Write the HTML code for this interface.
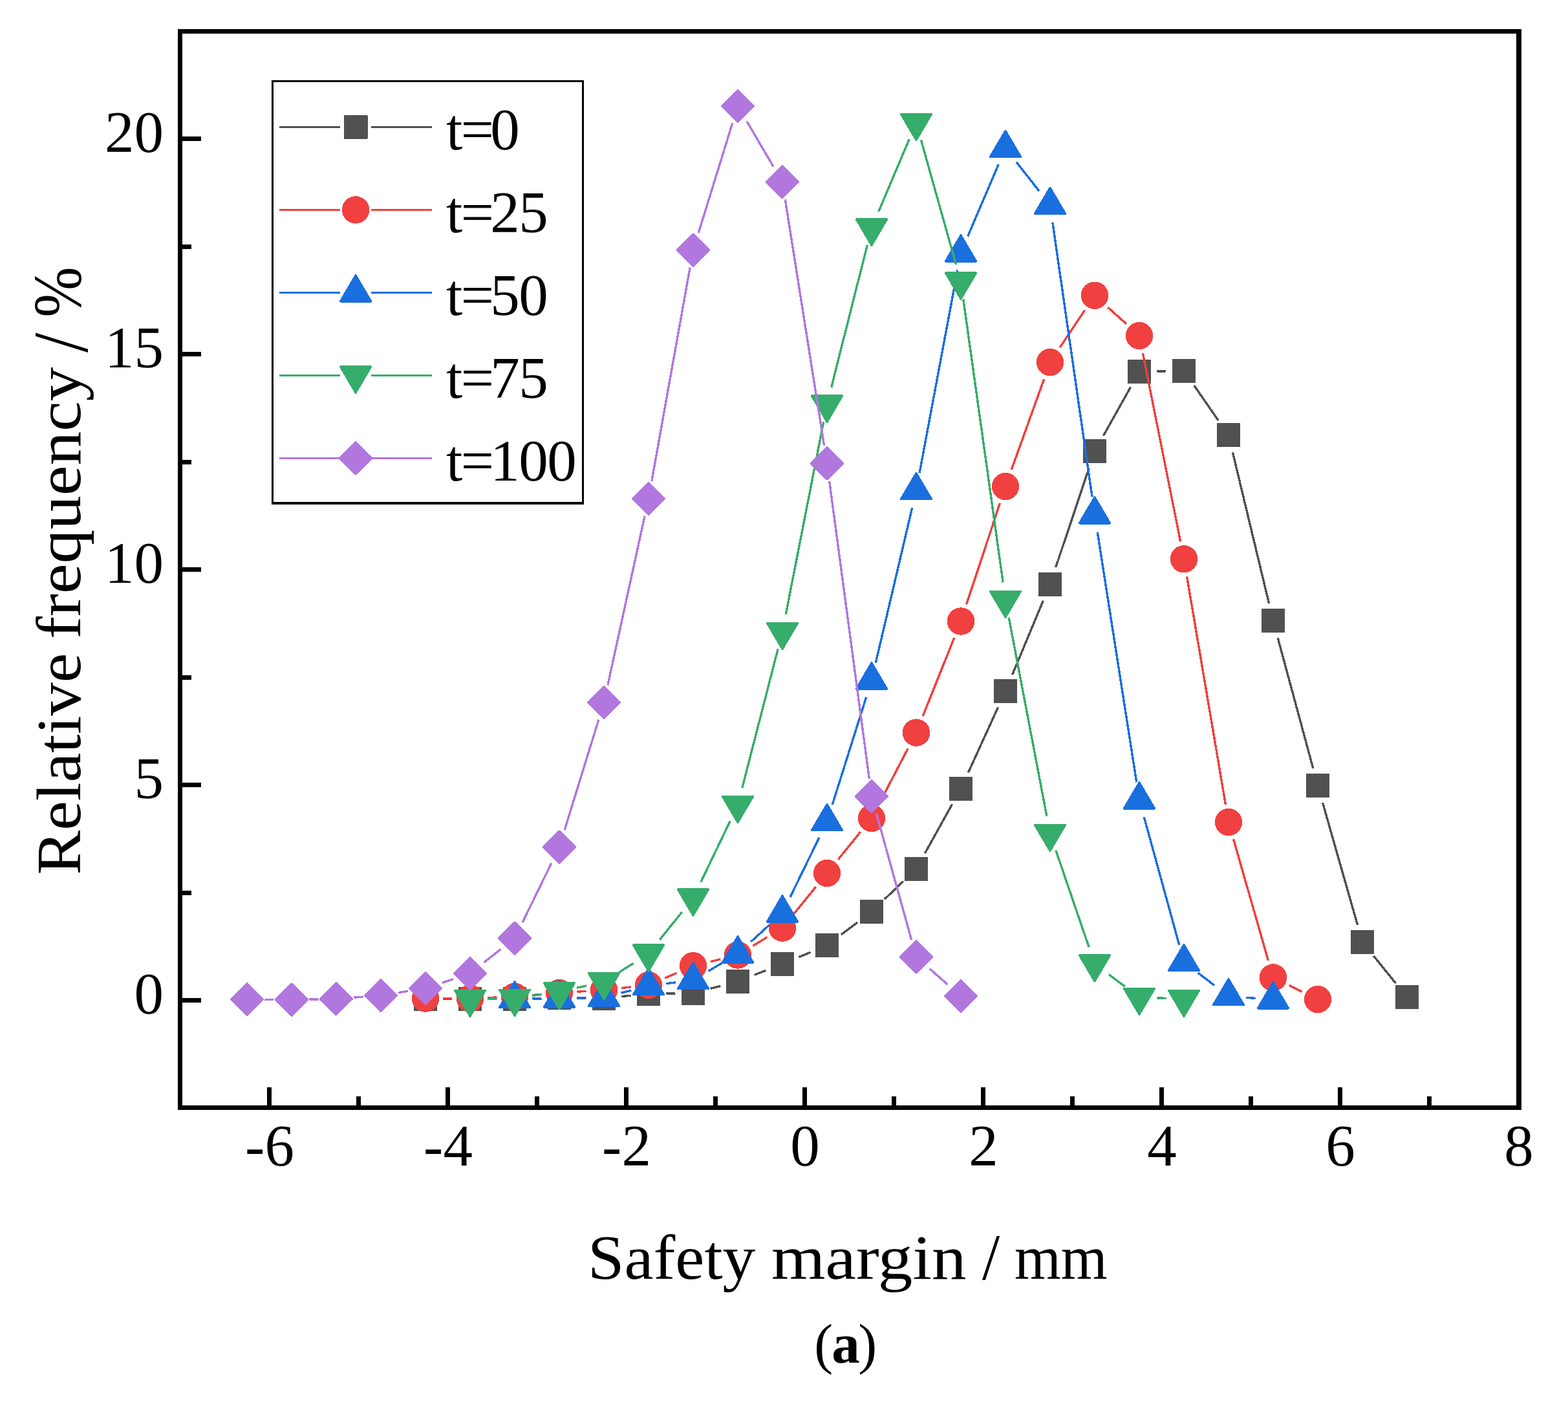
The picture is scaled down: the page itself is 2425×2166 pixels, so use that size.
<!DOCTYPE html>
<html><head><meta charset="utf-8"><title>Relative frequency of safety margin</title>
<style>html,body{margin:0;padding:0;background:#fff}body{width:2425px;height:2166px}svg{display:block}</style></head>
<body>
<svg width="2425" height="2166" viewBox="0 0 2425 2166" shape-rendering="crispEdges">
<rect width="2425" height="2166" fill="#ffffff"/>
<g><path d="M685.50 1544.34L699.50 1544.36M754.50 1544.36L768.50 1544.34M823.49 1543.58L837.51 1543.22M892.50 1542.86L906.50 1543.04M961.36 1540.59L975.64 1539.11M1030.50 1535.98L1044.50 1535.82M1098.59 1528.49L1114.41 1524.31M1166.62 1507.31L1184.38 1500.39M1235.36 1479.78L1253.64 1472.12M1300.96 1444.95L1326.04 1426.05M1367.84 1390.46L1397.16 1362.34M1430.38 1319.27L1472.62 1243.43M1497.44 1194.39L1543.56 1093.51M1565.59 1043.12L1613.41 928.58M1632.75 877.13L1684.25 723.77M1706.44 673.71L1748.56 598.49M1789.50 574.02L1803.50 573.78M1846.68 595.89L1884.32 650.11M1906.43 699.44L1962.57 932.86M1976.19 986.14L2030.81 1187.86M2045.54 1240.85L2099.46 1429.95M2124.30 1477.78L2158.70 1520.32" stroke="#515151" stroke-width="3.4" stroke-linecap="butt" fill="none"/>
<rect x="639.55" y="1525.85" width="36.9" height="36.9" rx="0.8" fill="#515151"/>
<rect x="708.55" y="1525.95" width="36.9" height="36.9" rx="0.8" fill="#515151"/>
<rect x="777.55" y="1525.85" width="36.9" height="36.9" rx="0.8" fill="#515151"/>
<rect x="846.55" y="1524.05" width="36.9" height="36.9" rx="0.8" fill="#515151"/>
<rect x="915.55" y="1524.95" width="36.9" height="36.9" rx="0.8" fill="#515151"/>
<rect x="984.55" y="1517.85" width="36.9" height="36.9" rx="0.8" fill="#515151"/>
<rect x="1053.55" y="1517.05" width="36.9" height="36.9" rx="0.8" fill="#515151"/>
<rect x="1122.55" y="1498.85" width="36.9" height="36.9" rx="0.8" fill="#515151"/>
<rect x="1191.55" y="1471.95" width="36.9" height="36.9" rx="0.8" fill="#515151"/>
<rect x="1260.55" y="1443.05" width="36.9" height="36.9" rx="0.8" fill="#515151"/>
<rect x="1329.55" y="1391.05" width="36.9" height="36.9" rx="0.8" fill="#515151"/>
<rect x="1398.55" y="1324.85" width="36.9" height="36.9" rx="0.8" fill="#515151"/>
<rect x="1467.55" y="1200.95" width="36.9" height="36.9" rx="0.8" fill="#515151"/>
<rect x="1536.55" y="1050.05" width="36.9" height="36.9" rx="0.8" fill="#515151"/>
<rect x="1605.55" y="884.75" width="36.9" height="36.9" rx="0.8" fill="#515151"/>
<rect x="1674.55" y="679.25" width="36.9" height="36.9" rx="0.8" fill="#515151"/>
<rect x="1743.55" y="556.05" width="36.9" height="36.9" rx="0.8" fill="#515151"/>
<rect x="1812.55" y="554.85" width="36.9" height="36.9" rx="0.8" fill="#515151"/>
<rect x="1881.55" y="654.25" width="36.9" height="36.9" rx="0.8" fill="#515151"/>
<rect x="1950.55" y="941.15" width="36.9" height="36.9" rx="0.8" fill="#515151"/>
<rect x="2019.55" y="1195.95" width="36.9" height="36.9" rx="0.8" fill="#515151"/>
<rect x="2088.55" y="1437.95" width="36.9" height="36.9" rx="0.8" fill="#515151"/>
<rect x="2157.55" y="1523.25" width="36.9" height="36.9" rx="0.8" fill="#515151"/>
</g>
<g><path d="M685.50 1543.58L699.50 1543.62M754.48 1542.55L768.52 1541.95M823.41 1538.54L837.59 1537.36M892.44 1533.27L906.56 1532.33M961.34 1527.53L975.66 1525.97M1028.25 1512.10L1046.75 1504.10M1098.73 1486.73L1114.27 1482.97M1164.51 1462.23L1186.49 1448.87M1227.38 1413.29L1261.62 1371.31M1296.32 1328.64L1330.68 1286.26M1360.72 1240.52L1404.28 1156.98M1427.23 1107.08L1475.77 986.02M1494.64 934.39L1546.36 778.11M1564.30 726.12L1614.70 585.98M1639.26 537.23L1677.74 479.57M1713.41 475.13L1741.59 500.57M1767.39 545.97L1825.61 837.33M1835.60 891.41L1895.40 1243.79M1907.58 1297.33L1961.42 1484.97M1993.71 1523.47L2013.29 1533.03" stroke="#F14040" stroke-width="3.4" stroke-linecap="butt" fill="none"/>
<circle cx="658.00" cy="1543.50" r="21.2" fill="#F14040"/>
<circle cx="727.00" cy="1543.70" r="21.2" fill="#F14040"/>
<circle cx="796.00" cy="1540.80" r="21.2" fill="#F14040"/>
<circle cx="865.00" cy="1535.10" r="21.2" fill="#F14040"/>
<circle cx="934.00" cy="1530.50" r="21.2" fill="#F14040"/>
<circle cx="1003.00" cy="1523.00" r="21.2" fill="#F14040"/>
<circle cx="1072.00" cy="1493.20" r="21.2" fill="#F14040"/>
<circle cx="1141.00" cy="1476.50" r="21.2" fill="#F14040"/>
<circle cx="1210.00" cy="1434.60" r="21.2" fill="#F14040"/>
<circle cx="1279.00" cy="1350.00" r="21.2" fill="#F14040"/>
<circle cx="1348.00" cy="1264.90" r="21.2" fill="#F14040"/>
<circle cx="1417.00" cy="1132.60" r="21.2" fill="#F14040"/>
<circle cx="1486.00" cy="960.50" r="21.2" fill="#F14040"/>
<circle cx="1555.00" cy="752.00" r="21.2" fill="#F14040"/>
<circle cx="1624.00" cy="560.10" r="21.2" fill="#F14040"/>
<circle cx="1693.00" cy="456.70" r="21.2" fill="#F14040"/>
<circle cx="1762.00" cy="519.00" r="21.2" fill="#F14040"/>
<circle cx="1831.00" cy="864.30" r="21.2" fill="#F14040"/>
<circle cx="1900.00" cy="1270.90" r="21.2" fill="#F14040"/>
<circle cx="1969.00" cy="1511.40" r="21.2" fill="#F14040"/>
<circle cx="2038.00" cy="1545.10" r="21.2" fill="#F14040"/>
</g>
<g><path d="M823.50 1544.02L837.50 1543.88M892.49 1542.96L906.51 1542.64M960.63 1535.13L976.37 1531.07M1030.27 1520.68L1044.73 1518.82M1095.67 1501.30L1117.33 1488.50M1161.32 1455.97L1189.68 1430.13M1222.06 1386.89L1266.94 1294.91M1287.27 1243.97L1339.73 1077.73M1354.30 1024.73L1410.70 785.07M1422.07 731.27L1480.93 417.53M1496.80 365.21L1544.20 254.29M1571.97 250.64L1607.03 295.36M1627.93 344.22L1689.07 768.18M1697.25 822.57L1757.75 1209.33M1769.29 1263.01L1823.71 1460.79M1852.81 1504.05L1878.19 1523.55M1927.43 1542.33L1941.57 1543.37" stroke="#1A6FDF" stroke-width="3.4" stroke-linecap="butt" fill="none"/>
<polygon points="796.00,1517.80 819.45,1557.70 772.55,1557.70" fill="#1A6FDF" stroke="#1A6FDF" stroke-width="3.4" stroke-linejoin="round"/>
<polygon points="865.00,1517.10 888.45,1557.00 841.55,1557.00" fill="#1A6FDF" stroke="#1A6FDF" stroke-width="3.4" stroke-linejoin="round"/>
<polygon points="934.00,1515.50 957.45,1555.40 910.55,1555.40" fill="#1A6FDF" stroke="#1A6FDF" stroke-width="3.4" stroke-linejoin="round"/>
<polygon points="1003.00,1497.70 1026.45,1537.60 979.55,1537.60" fill="#1A6FDF" stroke="#1A6FDF" stroke-width="3.4" stroke-linejoin="round"/>
<polygon points="1072.00,1488.80 1095.45,1528.70 1048.55,1528.70" fill="#1A6FDF" stroke="#1A6FDF" stroke-width="3.4" stroke-linejoin="round"/>
<polygon points="1141.00,1448.00 1164.45,1487.90 1117.55,1487.90" fill="#1A6FDF" stroke="#1A6FDF" stroke-width="3.4" stroke-linejoin="round"/>
<polygon points="1210.00,1385.10 1233.45,1425.00 1186.55,1425.00" fill="#1A6FDF" stroke="#1A6FDF" stroke-width="3.4" stroke-linejoin="round"/>
<polygon points="1279.00,1243.70 1302.45,1283.60 1255.55,1283.60" fill="#1A6FDF" stroke="#1A6FDF" stroke-width="3.4" stroke-linejoin="round"/>
<polygon points="1348.00,1025.00 1371.45,1064.90 1324.55,1064.90" fill="#1A6FDF" stroke="#1A6FDF" stroke-width="3.4" stroke-linejoin="round"/>
<polygon points="1417.00,731.80 1440.45,771.70 1393.55,771.70" fill="#1A6FDF" stroke="#1A6FDF" stroke-width="3.4" stroke-linejoin="round"/>
<polygon points="1486.00,364.00 1509.45,403.90 1462.55,403.90" fill="#1A6FDF" stroke="#1A6FDF" stroke-width="3.4" stroke-linejoin="round"/>
<polygon points="1555.00,202.50 1578.45,242.40 1531.55,242.40" fill="#1A6FDF" stroke="#1A6FDF" stroke-width="3.4" stroke-linejoin="round"/>
<polygon points="1624.00,290.50 1647.45,330.40 1600.55,330.40" fill="#1A6FDF" stroke="#1A6FDF" stroke-width="3.4" stroke-linejoin="round"/>
<polygon points="1693.00,768.90 1716.45,808.80 1669.55,808.80" fill="#1A6FDF" stroke="#1A6FDF" stroke-width="3.4" stroke-linejoin="round"/>
<polygon points="1762.00,1210.00 1785.45,1249.90 1738.55,1249.90" fill="#1A6FDF" stroke="#1A6FDF" stroke-width="3.4" stroke-linejoin="round"/>
<polygon points="1831.00,1460.80 1854.45,1500.70 1807.55,1500.70" fill="#1A6FDF" stroke="#1A6FDF" stroke-width="3.4" stroke-linejoin="round"/>
<polygon points="1900.00,1513.80 1923.45,1553.70 1876.55,1553.70" fill="#1A6FDF" stroke="#1A6FDF" stroke-width="3.4" stroke-linejoin="round"/>
<polygon points="1969.00,1518.90 1992.45,1558.80 1945.55,1558.80" fill="#1A6FDF" stroke="#1A6FDF" stroke-width="3.4" stroke-linejoin="round"/>
</g>
<g><path d="M754.50 1544.20L768.50 1544.00M823.20 1539.54L837.80 1537.36M891.85 1527.35L907.15 1523.95M957.26 1503.33L979.74 1489.17M1020.21 1453.05L1054.79 1409.95M1083.90 1363.71L1129.10 1269.59M1147.85 1218.17L1203.15 1003.33M1215.30 949.72L1273.70 652.38M1285.74 598.74L1341.26 379.16M1358.74 327.18L1406.26 215.12M1424.44 216.28L1478.56 408.92M1489.82 462.63L1551.18 900.37M1560.16 954.61L1618.84 1261.69M1632.91 1314.72L1684.09 1464.28M1715.07 1506.71L1739.93 1525.19M1789.47 1542.79L1803.53 1543.41" stroke="#37AD6B" stroke-width="3.4" stroke-linecap="butt" fill="none"/>
<polygon points="727.00,1571.10 750.45,1531.20 703.55,1531.20" fill="#37AD6B" stroke="#37AD6B" stroke-width="3.4" stroke-linejoin="round"/>
<polygon points="796.00,1570.10 819.45,1530.20 772.55,1530.20" fill="#37AD6B" stroke="#37AD6B" stroke-width="3.4" stroke-linejoin="round"/>
<polygon points="865.00,1559.80 888.45,1519.90 841.55,1519.90" fill="#37AD6B" stroke="#37AD6B" stroke-width="3.4" stroke-linejoin="round"/>
<polygon points="934.00,1544.50 957.45,1504.60 910.55,1504.60" fill="#37AD6B" stroke="#37AD6B" stroke-width="3.4" stroke-linejoin="round"/>
<polygon points="1003.00,1501.00 1026.45,1461.10 979.55,1461.10" fill="#37AD6B" stroke="#37AD6B" stroke-width="3.4" stroke-linejoin="round"/>
<polygon points="1072.00,1415.00 1095.45,1375.10 1048.55,1375.10" fill="#37AD6B" stroke="#37AD6B" stroke-width="3.4" stroke-linejoin="round"/>
<polygon points="1141.00,1271.30 1164.45,1231.40 1117.55,1231.40" fill="#37AD6B" stroke="#37AD6B" stroke-width="3.4" stroke-linejoin="round"/>
<polygon points="1210.00,1003.20 1233.45,963.30 1186.55,963.30" fill="#37AD6B" stroke="#37AD6B" stroke-width="3.4" stroke-linejoin="round"/>
<polygon points="1279.00,651.90 1302.45,612.00 1255.55,612.00" fill="#37AD6B" stroke="#37AD6B" stroke-width="3.4" stroke-linejoin="round"/>
<polygon points="1348.00,379.00 1371.45,339.10 1324.55,339.10" fill="#37AD6B" stroke="#37AD6B" stroke-width="3.4" stroke-linejoin="round"/>
<polygon points="1417.00,216.30 1440.45,176.40 1393.55,176.40" fill="#37AD6B" stroke="#37AD6B" stroke-width="3.4" stroke-linejoin="round"/>
<polygon points="1486.00,461.90 1509.45,422.00 1462.55,422.00" fill="#37AD6B" stroke="#37AD6B" stroke-width="3.4" stroke-linejoin="round"/>
<polygon points="1555.00,954.10 1578.45,914.20 1531.55,914.20" fill="#37AD6B" stroke="#37AD6B" stroke-width="3.4" stroke-linejoin="round"/>
<polygon points="1624.00,1315.20 1647.45,1275.30 1600.55,1275.30" fill="#37AD6B" stroke="#37AD6B" stroke-width="3.4" stroke-linejoin="round"/>
<polygon points="1693.00,1516.80 1716.45,1476.90 1669.55,1476.90" fill="#37AD6B" stroke="#37AD6B" stroke-width="3.4" stroke-linejoin="round"/>
<polygon points="1762.00,1568.10 1785.45,1528.20 1738.55,1528.20" fill="#37AD6B" stroke="#37AD6B" stroke-width="3.4" stroke-linejoin="round"/>
<polygon points="1831.00,1571.10 1854.45,1531.20 1807.55,1531.20" fill="#37AD6B" stroke="#37AD6B" stroke-width="3.4" stroke-linejoin="round"/>
</g>
<g><path d="M409.50 1545.22L423.50 1545.38M478.49 1545.14L492.51 1544.86M547.42 1542.19L561.58 1541.11M616.16 1534.67L630.84 1532.33M684.08 1519.27L700.92 1513.63M748.61 1487.89L774.39 1467.61M808.09 1425.90L852.91 1334.30M873.12 1283.32L925.88 1112.48M939.88 1059.34L997.12 797.66M1007.86 743.73L1067.14 413.67M1080.14 360.33L1132.86 190.07M1154.93 187.51L1196.07 257.59M1214.31 308.46L1274.69 689.24M1282.65 743.66L1344.35 1204.04M1355.37 1257.79L1409.63 1452.91M1437.63 1497.58L1465.37 1522.02" stroke="#B177DE" stroke-width="3.4" stroke-linecap="butt" fill="none"/>
<polygon points="382.00,1520.30 406.60,1544.90 382.00,1569.50 357.40,1544.90" fill="#B177DE" stroke="#B177DE" stroke-width="3" stroke-linejoin="round"/>
<polygon points="451.00,1521.10 475.60,1545.70 451.00,1570.30 426.40,1545.70" fill="#B177DE" stroke="#B177DE" stroke-width="3" stroke-linejoin="round"/>
<polygon points="520.00,1519.70 544.60,1544.30 520.00,1568.90 495.40,1544.30" fill="#B177DE" stroke="#B177DE" stroke-width="3" stroke-linejoin="round"/>
<polygon points="589.00,1514.40 613.60,1539.00 589.00,1563.60 564.40,1539.00" fill="#B177DE" stroke="#B177DE" stroke-width="3" stroke-linejoin="round"/>
<polygon points="658.00,1503.40 682.60,1528.00 658.00,1552.60 633.40,1528.00" fill="#B177DE" stroke="#B177DE" stroke-width="3" stroke-linejoin="round"/>
<polygon points="727.00,1480.30 751.60,1504.90 727.00,1529.50 702.40,1504.90" fill="#B177DE" stroke="#B177DE" stroke-width="3" stroke-linejoin="round"/>
<polygon points="796.00,1426.00 820.60,1450.60 796.00,1475.20 771.40,1450.60" fill="#B177DE" stroke="#B177DE" stroke-width="3" stroke-linejoin="round"/>
<polygon points="865.00,1285.00 889.60,1309.60 865.00,1334.20 840.40,1309.60" fill="#B177DE" stroke="#B177DE" stroke-width="3" stroke-linejoin="round"/>
<polygon points="934.00,1061.60 958.60,1086.20 934.00,1110.80 909.40,1086.20" fill="#B177DE" stroke="#B177DE" stroke-width="3" stroke-linejoin="round"/>
<polygon points="1003.00,746.20 1027.60,770.80 1003.00,795.40 978.40,770.80" fill="#B177DE" stroke="#B177DE" stroke-width="3" stroke-linejoin="round"/>
<polygon points="1072.00,362.00 1096.60,386.60 1072.00,411.20 1047.40,386.60" fill="#B177DE" stroke="#B177DE" stroke-width="3" stroke-linejoin="round"/>
<polygon points="1141.00,139.20 1165.60,163.80 1141.00,188.40 1116.40,163.80" fill="#B177DE" stroke="#B177DE" stroke-width="3" stroke-linejoin="round"/>
<polygon points="1210.00,256.70 1234.60,281.30 1210.00,305.90 1185.40,281.30" fill="#B177DE" stroke="#B177DE" stroke-width="3" stroke-linejoin="round"/>
<polygon points="1279.00,691.80 1303.60,716.40 1279.00,741.00 1254.40,716.40" fill="#B177DE" stroke="#B177DE" stroke-width="3" stroke-linejoin="round"/>
<polygon points="1348.00,1206.70 1372.60,1231.30 1348.00,1255.90 1323.40,1231.30" fill="#B177DE" stroke="#B177DE" stroke-width="3" stroke-linejoin="round"/>
<polygon points="1417.00,1454.80 1441.60,1479.40 1417.00,1504.00 1392.40,1479.40" fill="#B177DE" stroke="#B177DE" stroke-width="3" stroke-linejoin="round"/>
<polygon points="1486.00,1515.60 1510.60,1540.20 1486.00,1564.80 1461.40,1540.20" fill="#B177DE" stroke="#B177DE" stroke-width="3" stroke-linejoin="round"/>
</g>
<path d="M275 45H2353V1716H275ZM282 52V1709H2345.2V52Z" fill="#000" fill-rule="evenodd"/>
<path d="M413.0 1680.5h7V1710h-7ZM551.0 1695.0h7V1710h-7ZM689.0 1680.5h7V1710h-7ZM827.0 1695.0h7V1710h-7ZM965.0 1680.5h7V1710h-7ZM1103.0 1695.0h7V1710h-7ZM1241.0 1680.5h7V1710h-7ZM1379.0 1695.0h7V1710h-7ZM1517.0 1680.5h7V1710h-7ZM1655.0 1695.0h7V1710h-7ZM1793.0 1680.5h7V1710h-7ZM1931.0 1695.0h7V1710h-7ZM2069.0 1680.5h7V1710h-7ZM2207.0 1695.0h7V1710h-7ZM281.5 1543.0h29.7v7H281.5ZM281.5 1376.5h14.0v7H281.5ZM281.5 1210.0h29.7v7H281.5ZM281.5 1043.5h14.0v7H281.5ZM281.5 877.0h29.7v7H281.5ZM281.5 710.6h14.0v7H281.5ZM281.5 544.1h29.7v7H281.5ZM281.5 377.6h14.0v7H281.5ZM281.5 211.1h29.7v7H281.5Z" fill="#000"/>
<g font-family="'Liberation Serif', serif" font-size="91" fill="#000">
<text x="417.00" y="1802.3" text-anchor="middle">-6</text>
<text x="693.00" y="1802.3" text-anchor="middle">-4</text>
<text x="969.00" y="1802.3" text-anchor="middle">-2</text>
<text x="1245.00" y="1802.3" text-anchor="middle">0</text>
<text x="1521.00" y="1802.3" text-anchor="middle">2</text>
<text x="1797.00" y="1802.3" text-anchor="middle">4</text>
<text x="2073.00" y="1802.3" text-anchor="middle">6</text>
<text x="2349.00" y="1802.3" text-anchor="middle">8</text>
<text x="252.9" y="1566.80" text-anchor="end">0</text>
<text x="252.9" y="1233.83" text-anchor="end">5</text>
<text x="252.9" y="900.85" text-anchor="end">10</text>
<text x="252.9" y="567.88" text-anchor="end">15</text>
<text x="252.9" y="234.90" text-anchor="end">20</text>
</g>
<g font-family="'Liberation Serif', serif" font-size="97" fill="#000">
<text x="908.99" y="1977" font-size="97" textLength="259.38" lengthAdjust="spacingAndGlyphs">Safety</text>
<text x="1192.96" y="1977" font-size="97" textLength="301.70" lengthAdjust="spacingAndGlyphs">margin</text>
<text x="1518.90" y="1977.5" font-size="101" textLength="27.20" lengthAdjust="spacingAndGlyphs">/</text>
<text x="1568.95" y="1977" font-size="97" textLength="143.71" lengthAdjust="spacingAndGlyphs">mm</text>
<g transform="translate(124.3 0) rotate(-90)">
<text x="-1352.49" y="0" font-size="97" textLength="342.88" lengthAdjust="spacingAndGlyphs">Relative</text>
<text x="-988.05" y="0" font-size="97" textLength="420.26" lengthAdjust="spacingAndGlyphs">frequency</text>
<text x="-545.10" y="10.2" font-size="121" textLength="30.58" lengthAdjust="spacingAndGlyphs">/</text>
<text x="-490.51" y="0.7" font-size="106" textLength="77.90" lengthAdjust="spacingAndGlyphs">%</text>
</g></g>
<text font-family="'Liberation Serif', serif" font-size="87" fill="#000" y="2107" x="1259.2 1286.3 1327.3">(<tspan font-weight="bold">a</tspan>)</text>
<rect x="421.7" y="125.6" width="479.6" height="652.6" fill="#fff" stroke="#000" stroke-width="3.4"/>
<g font-family="'Liberation Serif', serif" font-size="91" fill="#000">
<path d="M432.1 196.5H526.0M574.2 196.5H668.1" stroke="#515151" stroke-width="3.4" fill="none"/>
<rect x="531.65" y="178.05" width="36.9" height="36.9" rx="0.8" fill="#515151"/>
<text x="689.9 712.8 758.3" y="230.8">t=0</text>
<path d="M432.1 324.4H526.0M574.2 324.4H668.1" stroke="#F14040" stroke-width="3.4" fill="none"/>
<circle cx="550.10" cy="324.40" r="21.2" fill="#F14040"/>
<text x="689.9 712.8 758.3 802.3" y="358.7">t=25</text>
<path d="M432.1 452.4H526.0M574.2 452.4H668.1" stroke="#1A6FDF" stroke-width="3.4" fill="none"/>
<polygon points="550.10,425.90 573.55,465.80 526.65,465.80" fill="#1A6FDF" stroke="#1A6FDF" stroke-width="3.4" stroke-linejoin="round"/>
<text x="689.9 712.8 758.3 802.3" y="486.7">t=50</text>
<path d="M432.1 580.4H526.0M574.2 580.4H668.1" stroke="#37AD6B" stroke-width="3.4" fill="none"/>
<polygon points="550.10,606.90 573.55,567.00 526.65,567.00" fill="#37AD6B" stroke="#37AD6B" stroke-width="3.4" stroke-linejoin="round"/>
<text x="689.9 712.8 758.3 802.3" y="614.7">t=75</text>
<path d="M432.1 708.4H526.0M574.2 708.4H668.1" stroke="#B177DE" stroke-width="3.4" fill="none"/>
<polygon points="550.10,683.80 574.70,708.40 550.10,733.00 525.50,708.40" fill="#B177DE" stroke="#B177DE" stroke-width="3" stroke-linejoin="round"/>
<text x="689.9 712.8 758.3 802.3 846.3" y="742.7">t=100</text>
</g>
</svg>
</body></html>
